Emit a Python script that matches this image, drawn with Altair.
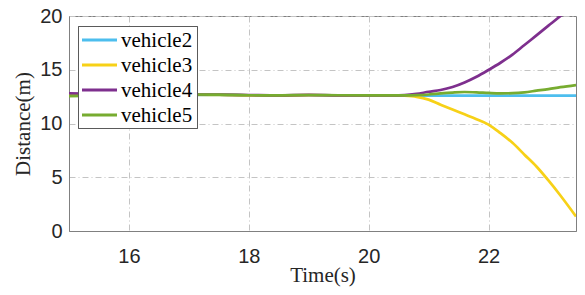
import altair as alt
import pandas as pd

time_s = [15.0, 15.5, 16.0, 16.5, 17.0, 17.5, 18.0, 18.5, 19.0, 19.5, 20.0, 20.4,
          20.6, 20.8, 21.0, 21.2, 21.4, 21.6, 21.8, 22.0, 22.2, 22.4, 22.6, 22.8,
          23.0, 23.2, 23.46]
vehicle2 = [12.72, 12.68, 12.66, 12.65, 12.66, 12.66, 12.63, 12.62, 12.63, 12.63, 12.62, 12.61,
            12.61, 12.6, 12.6, 12.6, 12.6, 12.6, 12.6, 12.6, 12.6, 12.6, 12.6, 12.6,
            12.6, 12.6, 12.6]
vehicle3 = [12.70, 12.66, 12.64, 12.64, 12.68, 12.66, 12.62, 12.6, 12.64, 12.62, 12.62, 12.61,
            12.58, 12.48, 12.22, 11.75, 11.3, 10.85, 10.4, 9.9, 9.1, 8.2, 7.1, 6.0,
            4.7, 3.3, 1.35]
vehicle4 = [12.8, 12.76, 12.72, 12.7, 12.7, 12.68, 12.65, 12.62, 12.66, 12.62, 12.62, 12.62,
            12.64, 12.75, 12.95, 13.12, 13.4, 13.82, 14.35, 14.98, 15.65, 16.4, 17.3, 18.2,
            19.1, 20.0, 21.3]
vehicle5 = [12.55, 12.6, 12.63, 12.65, 12.7, 12.68, 12.63, 12.62, 12.65, 12.63, 12.62, 12.62,
            12.62, 12.64, 12.7, 12.8, 12.88, 12.93, 12.9, 12.84, 12.8, 12.82, 12.9, 13.05,
            13.2, 13.38, 13.58]

series_names = ["vehicle2", "vehicle3", "vehicle4", "vehicle5"]
series_colors = ["#4DBEEE", "#F7D117", "#7E2F8E", "#77AC30"]
x_ticks = [16, 18, 20, 22]
y_ticks = [0, 5, 10, 15, 20]

rows = []
for name, vals in zip(series_names, [vehicle2, vehicle3, vehicle4, vehicle5]):
    for t, v in zip(time_s, vals):
        rows.append({"Time": t, "Distance": v, "Series": name})
df = pd.DataFrame(rows)
legend_df = pd.DataFrame({"Series": series_names})

color_scale = alt.Scale(domain=series_names, range=series_colors)

axis_style = dict(
    domainColor="#808080", domainWidth=1,
    gridColor="#c4c4c4", gridDash=[6, 3, 1, 3], gridWidth=1,
    ticks=False, tickSize=0,
    labelFont="Liberation Sans", labelFontSize=20, labelColor="#262626",
    titleFont="Liberation Serif", titleFontSize=21, titleFontWeight="normal",
    titleColor="#262626",
)

lines = alt.Chart(df).mark_line(clip=True, strokeWidth=2.7, interpolate="monotone").encode(
    x=alt.X("Time:Q",
            scale=alt.Scale(domain=[15, 23.46], nice=False, zero=False),
            axis=alt.Axis(values=x_ticks, title="Time(s)", labelPadding=15,
                          titleBaseline="alphabetic", titleY=50, **axis_style)),
    y=alt.Y("Distance:Q",
            scale=alt.Scale(domain=[0, 20], nice=False),
            axis=alt.Axis(values=y_ticks, title="Distance(m)", labelPadding=7,
                          titleAngle=-90, titleBaseline="alphabetic", titleX=-40,
                          **axis_style)),
    color=alt.Color("Series:N", scale=color_scale, legend=None),
)

# legend (drawn inside the plot, top-left)
legend_y = alt.Y("Series:N",
                 scale=alt.Scale(type="point", domain=series_names, range=[24, 99], padding=0),
                 axis=None)

legend_box = alt.Chart(legend_df).mark_rect(
    fill="white", stroke="#5a5a5a", strokeWidth=1
).encode(x=alt.value(9.5), x2=alt.value(128.5), y=alt.value(10.5), y2=alt.value(112.5))

legend_lines = alt.Chart(legend_df).mark_rule(strokeWidth=3).encode(
    x=alt.value(13), x2=alt.value(48), y=legend_y,
    color=alt.Color("Series:N", scale=color_scale, legend=None),
)

legend_text = alt.Chart(legend_df).mark_text(
    align="left", baseline="alphabetic", dy=7, font="Liberation Serif",
    fontSize=21, color="#000000"
).encode(x=alt.value(52), y=legend_y, text="Series:N")

chart = alt.layer(lines, legend_box, legend_lines, legend_text).resolve_scale(
    y="independent"
).properties(
    width=507, height=215,
    padding={"left": 61, "top": 8, "right": 1, "bottom": 56},
    autosize=alt.AutoSizeParams(type="none"),
).configure_view(stroke="#808080", strokeWidth=1)

chart.save("out.html", embed_options={"renderer": "svg", "actions": False})
